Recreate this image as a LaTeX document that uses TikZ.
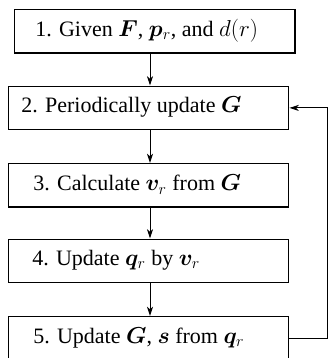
\documentclass[tikz,border=0pt]{standalone}
\usepackage{amsmath}
\usepackage{bm}
\usepackage[no-math]{fontspec}
\setmainfont{Liberation Serif}
\usetikzlibrary{arrows.meta,calc}
\begin{document}
\begin{tikzpicture}[x=0.75pt,y=-0.75pt,
  stepbox/.style={draw,line width=1.1pt,minimum width=210pt,minimum height=32.5pt,inner sep=0pt,anchor=north west},
  txt/.style={anchor=west,inner sep=0pt,font=\fontsize{16.5}{18}\selectfont},
  arr/.style={line width=0.75pt,-{Stealth[length=7pt,width=4.5pt,inset=2pt]}}]
\useasboundingbox (0,0) rectangle (328,358);
\node[stepbox,minimum width=210.4pt] (b1) at (13.5,9) {};
\node[stepbox] (b2) at (8,85.5) {};
\node[stepbox] (b3) at (8,163) {};
\node[stepbox] (b4) at (8,238.5) {};
\node[stepbox] (b5) at (8,316) {};
\node[txt] (t1) at (35,30.5) {1. Given $\bm{F}$, $\bm{p}_r$, and $d(r)$};
\node[txt] (t2) at (21,107) {2. Periodically update $\bm{G}$};
\node[txt] (t3) at (33,184.5) {3. Calculate $\bm{v}_r$ from $\bm{G}$};
\node[txt] (t4) at (32,260) {4. Update $\bm{q}_r$ by $\bm{v}_r$};
\node[txt] (t5) at (33,337.5) {5. Update $\bm{G}$, $\bm{s}$ from $\bm{q}_r$};
\coordinate (ax) at (150,0);
\coordinate (fb) at (327,0);
\draw[arr] (b1.south -| ax) -- (b2.north -| ax);
\draw[arr] (b2.south -| ax) -- (b3.north -| ax);
\draw[arr] (b3.south -| ax) -- (b4.north -| ax);
\draw[arr] (b4.south -| ax) -- (b5.north -| ax);
\draw[arr] (b5.east) -- (b5.east -| fb) -- (b2.east -| fb) -- (b2.east);
\end{tikzpicture}
\end{document}
